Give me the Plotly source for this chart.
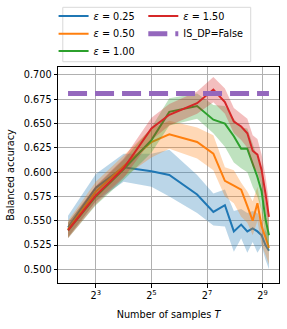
import plotly.graph_objects as go

T = [4, 8, 16, 32, 50, 100, 150, 200, 250, 300, 350, 400, 450, 500, 550, 600]

eps_labels = ["0.25", "0.50", "1.00", "1.50"]

mean_025 = [0.543, 0.584, 0.605, 0.601, 0.597, 0.577, 0.559, 0.566, 0.539, 0.546, 0.539, 0.542, 0.539, 0.535, 0.525, 0.519]
lo_025 = [0.533, 0.570, 0.590, 0.585, 0.575, 0.558, 0.545, 0.544, 0.518, 0.532, 0.517, 0.528, 0.517, 0.524, 0.510, 0.500]
hi_025 = [0.555, 0.598, 0.619, 0.619, 0.623, 0.597, 0.578, 0.582, 0.560, 0.562, 0.558, 0.560, 0.558, 0.548, 0.540, 0.535]

mean_050 = [0.541, 0.580, 0.606, 0.631, 0.639, 0.631, 0.619, 0.591, 0.586, 0.582, 0.565, 0.550, 0.568, 0.544, 0.533, 0.522]
lo_050 = [0.533, 0.570, 0.595, 0.615, 0.624, 0.614, 0.602, 0.575, 0.568, 0.554, 0.548, 0.535, 0.550, 0.525, 0.515, 0.505]
hi_050 = [0.550, 0.590, 0.617, 0.645, 0.653, 0.646, 0.638, 0.605, 0.602, 0.589, 0.580, 0.570, 0.585, 0.560, 0.550, 0.535]

mean_100 = [0.540, 0.575, 0.603, 0.633, 0.662, 0.668, 0.654, 0.650, 0.637, 0.624, 0.624, 0.608, 0.595, 0.580, 0.552, 0.535]
lo_100 = [0.532, 0.566, 0.592, 0.620, 0.648, 0.655, 0.640, 0.626, 0.610, 0.604, 0.600, 0.585, 0.575, 0.560, 0.535, 0.518]
hi_100 = [0.548, 0.585, 0.613, 0.646, 0.676, 0.681, 0.669, 0.668, 0.655, 0.646, 0.645, 0.630, 0.615, 0.600, 0.570, 0.552]

mean_150 = [0.540, 0.576, 0.604, 0.645, 0.659, 0.671, 0.685, 0.672, 0.652, 0.647, 0.640, 0.622, 0.618, 0.602, 0.578, 0.554]
lo_150 = [0.532, 0.567, 0.594, 0.633, 0.648, 0.660, 0.672, 0.660, 0.640, 0.633, 0.625, 0.606, 0.600, 0.585, 0.560, 0.538]
hi_150 = [0.548, 0.586, 0.614, 0.656, 0.670, 0.683, 0.698, 0.686, 0.666, 0.660, 0.655, 0.638, 0.634, 0.618, 0.596, 0.570]

nondp_value = 0.681

x_tickvals = [8, 32, 128, 512]
x_ticktext = ["2<sup>3</sup>", "2<sup>5</sup>", "2<sup>7</sup>", "2<sup>9</sup>"]
y_tickvals = [0.500, 0.525, 0.550, 0.575, 0.600, 0.625, 0.650, 0.675, 0.700]

colors = ["#1f77b4", "#ff7f0e", "#2ca02c", "#d62728"]
fills = ["rgba(31,119,180,0.3)", "rgba(255,127,14,0.3)", "rgba(44,160,44,0.3)", "rgba(214,39,40,0.3)"]
means = [mean_025, mean_050, mean_100, mean_150]
los = [lo_025, lo_050, lo_100, lo_150]
his = [hi_025, hi_050, hi_100, hi_150]
legend_ids = ["legend", "legend2", "legend3", "legend4"]

fig = go.Figure()
for i in range(4):
    fig.add_trace(go.Scatter(x=T, y=his[i], mode="lines", line=dict(width=0, color=colors[i]),
                             showlegend=False, hoverinfo="skip"))
    fig.add_trace(go.Scatter(x=T, y=los[i], mode="lines", line=dict(width=0, color=colors[i]),
                             fill="tonexty", fillcolor=fills[i], showlegend=False, hoverinfo="skip"))
    fig.add_trace(go.Scatter(x=T, y=means[i], mode="lines", line=dict(width=2, color=colors[i]),
                             name="<i>ε</i> = " + eps_labels[i], legend=legend_ids[i]))

fig.add_trace(go.Scatter(x=[T[0], T[-1]], y=[nondp_value, nondp_value], mode="lines",
                         line=dict(width=5, color="#9467bd", dash="19px,8px"),
                         name="IS_DP=False", legend="legend5"))

font = dict(family="DejaVu Sans", size=9.7, color="black")
axis_common = dict(showline=True, linecolor="black", linewidth=1, mirror=True,
                   ticks="outside", ticklen=3.5, tickwidth=0.8, tickcolor="black",
                   showgrid=True, gridcolor="#b0b0b0", gridwidth=0.8, zeroline=False,
                   tickfont=font, automargin=False)

col_x = [-0.02, -0.02, -0.02, 0.386, 0.386]
row_y = [1.2361, 1.1542, 1.0741, 1.2361, 1.1542]
legend_layouts = {}
for k, lid in enumerate(legend_ids + ["legend5"]):
    legend_layouts[lid] = dict(x=col_x[k], y=row_y[k], xanchor="left", yanchor="middle",
                               bgcolor="rgba(0,0,0,0)", font=font, orientation="v")

fig.update_layout(
    width=287, height=329,
    margin=dict(l=57.5, r=8, t=67, b=46, autoexpand=False),
    paper_bgcolor="white", plot_bgcolor="white",
    font=font,
    xaxis=dict(type="log", range=[0.4933, 2.8870], tickvals=x_tickvals, ticktext=x_ticktext,
               title=dict(text="Number of samples <i>T</i>", font=font, standoff=11), **axis_common),
    yaxis=dict(range=[0.4859, 0.7082], tickvals=y_tickvals, tickformat=".3f",
               title=dict(text="Balanced accuracy", font=font, standoff=7), **axis_common),
    shapes=[dict(type="rect", xref="paper", yref="paper", x0=0.0217, x1=0.872, y0=1.0245, y1=1.2764,
                 line=dict(color="#d9d9d9", width=1), fillcolor="white", layer="below")],
    showlegend=True,
    **legend_layouts,
)

fig.write_html("out.html", config={"displayModeBar": False},
               post_script="document.body.style.margin='0';document.body.style.overflow='hidden';")
